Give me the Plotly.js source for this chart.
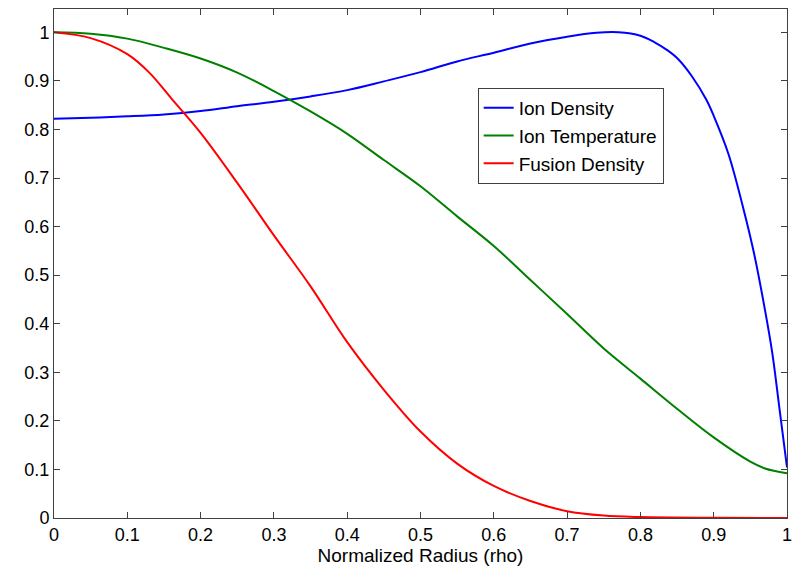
<!DOCTYPE html>
<html>
<head>
<meta charset="utf-8">
<script src="https://cdn.plot.ly/plotly-3.0.1.min.js"></script>
<style>html,body{margin:0;padding:0;background:#fff;}#chart{width:793px;height:568px;}</style>
</head>
<body>
<div id="chart"></div>
<script>
// Ion Density
var rhoIonDensity = [0, 0.05, 0.1, 0.15, 0.2, 0.25, 0.3, 0.35, 0.4, 0.45, 0.5, 0.55, 0.6, 0.65, 0.7, 0.74, 0.77, 0.8, 0.82, 0.835, 0.85, 0.87, 0.89, 0.9, 0.92, 0.94, 0.955, 0.97, 0.98, 0.99, 1.0];
var ionDensity    = [0.822, 0.824, 0.827, 0.831, 0.838, 0.848, 0.857, 0.868, 0.881, 0.899, 0.918, 0.940, 0.958, 0.977, 0.991, 0.999, 1.0, 0.993, 0.979, 0.965, 0.947, 0.910, 0.861, 0.828, 0.750, 0.640, 0.545, 0.428, 0.339, 0.222, 0.104];
// Ion Temperature
var rhoIonTemp = [0, 0.05, 0.1, 0.15, 0.2, 0.25, 0.3, 0.35, 0.4, 0.45, 0.5, 0.55, 0.6, 0.65, 0.7, 0.75, 0.8, 0.85, 0.9, 0.95, 0.97, 1.0];
var ionTemp    = [1.0, 0.997, 0.987, 0.968, 0.946, 0.917, 0.879, 0.837, 0.791, 0.737, 0.683, 0.621, 0.560, 0.490, 0.420, 0.349, 0.287, 0.225, 0.166, 0.116, 0.102, 0.092];
// Fusion Density
var rhoFusion = [0, 0.05, 0.1, 0.13, 0.16, 0.2, 0.25, 0.3, 0.35, 0.4, 0.45, 0.5, 0.55, 0.6, 0.65, 0.7, 0.75, 0.8, 0.9, 1.0];
var fusionDensity = [1.0, 0.988, 0.955, 0.917, 0.864, 0.793, 0.690, 0.582, 0.477, 0.362, 0.264, 0.178, 0.112, 0.066, 0.035, 0.014, 0.005, 0.002, 0.0005, 0.0];

var seriesNames = ["Ion Density", "Ion Temperature", "Fusion Density"];
var xTitle = "Normalized Radius (rho)";

var font = "Arial, 'Liberation Sans', sans-serif";

var traces = [
  {x: rhoIonDensity, y: ionDensity, name: seriesNames[0], legendgroup: "a", line: {color: "#0000ff", width: 2}},
  {x: rhoIonTemp, y: ionTemp, name: seriesNames[1], legendgroup: "b", line: {color: "#008000", width: 2}},
  {x: rhoFusion, y: fusionDensity, name: seriesNames[2], legendgroup: "c", line: {color: "#ff0000", width: 2}}
].map(function(t){ t.type = "scatter"; t.mode = "lines"; t.line.shape = "spline"; t.line.smoothing = 1; return t; });

var axisCommon = {
  showline: true, mirror: "ticks", linecolor: "#404040", linewidth: 1,
  ticks: "inside", ticklen: 6, tickcolor: "#404040", tickwidth: 1,
  showgrid: false, zeroline: false,
  tickfont: {family: font, size: 18, color: "#000"},
  ticklabeloverflow: "allow",
  dtick: 0.1, tick0: 0
};

var layout = {
  width: 793, height: 568,
  margin: {l: 54, r: 6, t: 9, b: 50},
  paper_bgcolor: "#fff", plot_bgcolor: "#fff",
  font: {family: font, size: 18, color: "#000"},
  showlegend: true,
  legend: {
    x: 0.578, y: 0.845, xanchor: "left", yanchor: "top",
    bgcolor: "#fff", bordercolor: "#404040", borderwidth: 1,
    font: {family: font, size: 19, color: "#000"},
    tracegroupgap: 2, traceorder: "normal"
  },
  xaxis: Object.assign({}, axisCommon, {
    range: [0, 1],
    title: {text: xTitle, font: {family: font, size: 19, color: "#000"}, standoff: 0}
  }),
  yaxis: Object.assign({}, axisCommon, {
    range: [0, 1.048]
  })
};

Plotly.newPlot("chart", traces, layout, {displayModeBar: false, staticPlot: true});
</script>
</body>
</html>
